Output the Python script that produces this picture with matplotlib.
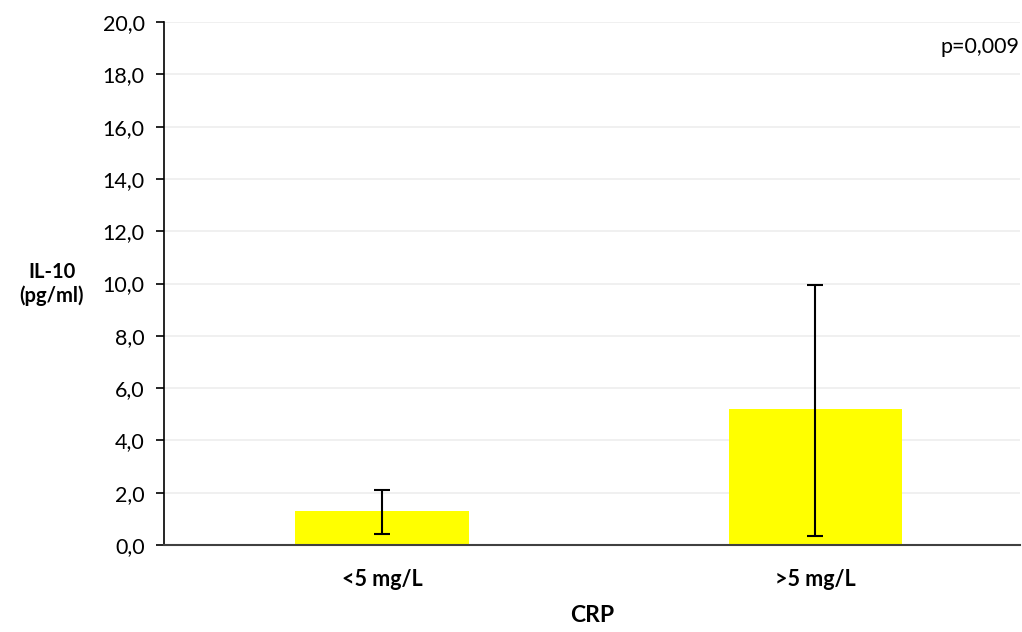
import numpy as np
import matplotlib.pyplot as plt

categories = ['<5 mg/L', '>5 mg/L']
means = [1.3, 5.2]
err_low = [0.88, 4.86]
err_high = [0.8, 4.74]
yticks = np.arange(0, 21, 2)

plt.rcParams['font.family'] = ['Lato', 'DejaVu Sans']

fig = plt.figure(figsize=(10.22, 6.32), dpi=100)
ax = fig.add_axes([164/1022, 1 - 545/632, (1020 - 164)/1022, (545 - 22)/632])

x = np.arange(len(categories))
ax.bar(x, means, width=0.4, color='#FFFF00', zorder=2)
ax.errorbar(x, means, yerr=[err_low, err_high], fmt='none', ecolor='black',
            elinewidth=1.5, capsize=6, capthick=1.5, zorder=3)

ax.set_xlim(-0.503, 1.472)
ax.set_ylim(0, 20)
ax.set_yticks(yticks)
ax.set_yticklabels([f'{v:.1f}'.replace('.', ',') for v in yticks], fontsize=15.5)
ax.set_xticks(x)
ax.set_xticklabels(categories, fontsize=15.5, fontweight='bold')
ax.tick_params(axis='x', length=0, pad=17)
ax.tick_params(axis='y', direction='out', length=6, width=1.2, pad=8)

ax.grid(axis='y', color='#EDEDED', linewidth=1.2, zorder=0)
ax.set_axisbelow(True)
for s in ['top', 'right']:
    ax.spines[s].set_visible(False)
ax.spines['left'].set_linewidth(1.2)
ax.spines['bottom'].set_color('#404040')
ax.spines['bottom'].set_linewidth(1.5)

ax.set_xlabel('CRP', fontsize=16.5, fontweight='bold', labelpad=11)
fig.text(52/1022, 1 - 284/632, 'IL-10\n(pg/ml)', ha='center', va='center',
         fontsize=14.5, fontweight='bold', linespacing=1.25)
ax.text(1.0, 20 - 0.95, 'p=0,009', ha='right', va='center', fontsize=15.5,
        transform=ax.get_yaxis_transform())

fig.savefig('out.png', dpi=100)
